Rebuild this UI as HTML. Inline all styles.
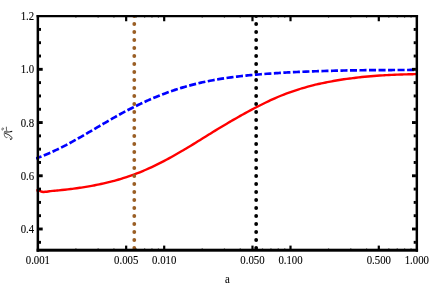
<!DOCTYPE html><html><head><meta charset="utf-8"><title>plot</title><style>html,body{margin:0;padding:0;background:#fff;width:429px;height:285px;overflow:hidden}</style></head><body><svg width="429" height="285" viewBox="0 0 429 285" style="display:block;position:absolute;left:0;top:0">
<rect width="429" height="285" fill="#fff"/>
<defs><clipPath id="c"><rect x="35.90" y="14.10" width="381.30" height="238.10"/></clipPath><clipPath id="d"><rect x="38" y="16.1" width="379" height="234.1"/></clipPath></defs>
<g clip-path="url(#d)"><circle cx="256.15" cy="248.00" r="1.90" fill="#000"/><circle cx="256.15" cy="240.00" r="1.90" fill="#000"/><circle cx="256.15" cy="232.00" r="1.90" fill="#000"/><circle cx="256.15" cy="224.00" r="1.90" fill="#000"/><circle cx="256.15" cy="216.00" r="1.90" fill="#000"/><circle cx="256.15" cy="208.00" r="1.90" fill="#000"/><circle cx="256.15" cy="200.00" r="1.90" fill="#000"/><circle cx="256.15" cy="192.00" r="1.90" fill="#000"/><circle cx="256.15" cy="184.00" r="1.90" fill="#000"/><circle cx="256.15" cy="176.00" r="1.90" fill="#000"/><circle cx="256.15" cy="168.00" r="1.90" fill="#000"/><circle cx="256.15" cy="160.00" r="1.90" fill="#000"/><circle cx="256.15" cy="152.00" r="1.90" fill="#000"/><circle cx="256.15" cy="144.00" r="1.90" fill="#000"/><circle cx="256.15" cy="136.00" r="1.90" fill="#000"/><circle cx="256.15" cy="128.00" r="1.90" fill="#000"/><circle cx="256.15" cy="120.00" r="1.90" fill="#000"/><circle cx="256.15" cy="112.00" r="1.90" fill="#000"/><circle cx="256.15" cy="104.00" r="1.90" fill="#000"/><circle cx="256.15" cy="96.00" r="1.90" fill="#000"/><circle cx="256.15" cy="88.00" r="1.90" fill="#000"/><circle cx="256.15" cy="80.00" r="1.90" fill="#000"/><circle cx="256.15" cy="72.00" r="1.90" fill="#000"/><circle cx="256.15" cy="64.00" r="1.90" fill="#000"/><circle cx="256.15" cy="56.00" r="1.90" fill="#000"/><circle cx="256.15" cy="48.00" r="1.90" fill="#000"/><circle cx="256.15" cy="40.00" r="1.90" fill="#000"/><circle cx="256.15" cy="32.00" r="1.90" fill="#000"/><circle cx="256.15" cy="24.00" r="1.90" fill="#000"/><circle cx="256.15" cy="16.00" r="1.90" fill="#000"/></g>
<g clip-path="url(#c)" fill="none" stroke-linecap="butt" stroke-linejoin="round">
<path d="M36.00 158.40 C36.50 158.23 38.00 157.71 39.00 157.35 C40.00 156.98 41.00 156.60 42.00 156.22 C43.00 155.83 44.00 155.43 45.00 155.02 C46.00 154.61 47.00 154.19 48.00 153.76 C49.00 153.33 50.00 152.89 51.00 152.44 C52.00 151.99 53.00 151.54 54.00 151.07 C55.00 150.60 56.00 150.13 57.00 149.64 C58.00 149.16 59.00 148.67 60.00 148.17 C61.00 147.67 62.00 147.16 63.00 146.65 C64.00 146.13 65.00 145.61 66.00 145.09 C67.00 144.56 68.00 144.03 69.00 143.49 C70.00 142.95 71.00 142.41 72.00 141.86 C73.00 141.31 74.00 140.76 75.00 140.20 C76.00 139.64 77.00 139.08 78.00 138.51 C79.00 137.95 80.00 137.38 81.00 136.80 C82.00 136.23 83.00 135.66 84.00 135.08 C85.00 134.50 86.00 133.92 87.00 133.34 C88.00 132.75 89.00 132.17 90.00 131.58 C91.00 131.00 92.00 130.41 93.00 129.82 C94.00 129.24 95.00 128.65 96.00 128.06 C97.00 127.47 98.00 126.89 99.00 126.30 C100.00 125.71 101.00 125.13 102.00 124.54 C103.00 123.96 104.00 123.37 105.00 122.79 C106.00 122.21 107.00 121.63 108.00 121.05 C109.00 120.47 110.00 119.90 111.00 119.33 C112.00 118.75 113.00 118.19 114.00 117.62 C115.00 117.06 116.00 116.49 117.00 115.94 C118.00 115.38 119.00 114.83 120.00 114.28 C121.00 113.73 122.00 113.19 123.00 112.66 C124.00 112.12 125.00 111.59 126.00 111.06 C127.00 110.54 128.00 110.01 129.00 109.50 C130.00 108.98 131.00 108.48 132.00 107.97 C133.00 107.47 134.00 106.97 135.00 106.48 C136.00 105.98 137.00 105.50 138.00 105.01 C139.00 104.53 140.00 104.06 141.00 103.59 C142.00 103.12 143.00 102.65 144.00 102.19 C145.00 101.73 146.00 101.28 147.00 100.83 C148.00 100.39 149.00 99.94 150.00 99.51 C151.00 99.07 152.00 98.64 153.00 98.22 C154.00 97.80 155.00 97.38 156.00 96.97 C157.00 96.56 158.00 96.15 159.00 95.75 C160.00 95.35 161.00 94.96 162.00 94.57 C163.00 94.18 164.00 93.80 165.00 93.43 C166.00 93.05 167.00 92.68 168.00 92.32 C169.00 91.96 170.00 91.60 171.00 91.25 C172.00 90.90 173.00 90.56 174.00 90.22 C175.00 89.89 176.00 89.55 177.00 89.23 C178.00 88.91 179.00 88.59 180.00 88.28 C181.00 87.96 182.00 87.66 183.00 87.36 C184.00 87.06 185.00 86.77 186.00 86.49 C187.00 86.20 188.00 85.92 189.00 85.65 C190.00 85.38 191.00 85.11 192.00 84.85 C193.00 84.59 194.00 84.33 195.00 84.08 C196.00 83.84 197.00 83.59 198.00 83.36 C199.00 83.12 200.00 82.89 201.00 82.66 C202.00 82.43 203.00 82.21 204.00 82.00 C205.00 81.78 206.00 81.57 207.00 81.37 C208.00 81.16 209.00 80.97 210.00 80.77 C211.00 80.58 212.00 80.39 213.00 80.20 C214.00 80.02 215.00 79.84 216.00 79.66 C217.00 79.48 218.00 79.31 219.00 79.15 C220.00 78.98 221.00 78.82 222.00 78.66 C223.00 78.50 224.00 78.35 225.00 78.20 C226.00 78.05 227.00 77.90 228.00 77.76 C229.00 77.62 230.00 77.48 231.00 77.35 C232.00 77.21 233.00 77.08 234.00 76.95 C235.00 76.83 236.00 76.70 237.00 76.58 C238.00 76.46 239.00 76.34 240.00 76.23 C241.00 76.12 242.00 76.01 243.00 75.90 C244.00 75.79 245.00 75.68 246.00 75.58 C247.00 75.48 248.00 75.38 249.00 75.28 C250.00 75.19 251.00 75.09 252.00 75.00 C253.00 74.91 254.00 74.82 255.00 74.73 C256.00 74.64 257.00 74.56 258.00 74.47 C259.00 74.39 260.00 74.31 261.00 74.23 C262.00 74.15 263.00 74.07 264.00 74.00 C265.00 73.92 266.00 73.85 267.00 73.78 C268.00 73.70 269.00 73.63 270.00 73.56 C271.00 73.49 272.00 73.42 273.00 73.36 C274.00 73.29 275.00 73.22 276.00 73.16 C277.00 73.10 278.00 73.03 279.00 72.97 C280.00 72.91 281.00 72.85 282.00 72.79 C283.00 72.73 284.00 72.67 285.00 72.62 C286.00 72.56 287.00 72.51 288.00 72.45 C289.00 72.40 290.00 72.34 291.00 72.29 C292.00 72.24 293.00 72.19 294.00 72.14 C295.00 72.09 296.00 72.04 297.00 72.00 C298.00 71.95 299.00 71.91 300.00 71.86 C301.00 71.82 302.00 71.77 303.00 71.73 C304.00 71.69 305.00 71.65 306.00 71.61 C307.00 71.57 308.00 71.53 309.00 71.49 C310.00 71.45 311.00 71.41 312.00 71.38 C313.00 71.34 314.00 71.31 315.00 71.27 C316.00 71.24 317.00 71.20 318.00 71.17 C319.00 71.14 320.00 71.11 321.00 71.08 C322.00 71.05 323.00 71.02 324.00 70.99 C325.00 70.96 326.00 70.93 327.00 70.90 C328.00 70.88 329.00 70.85 330.00 70.83 C331.00 70.80 332.00 70.78 333.00 70.75 C334.00 70.73 335.00 70.71 336.00 70.68 C337.00 70.66 338.00 70.64 339.00 70.62 C340.00 70.60 341.00 70.58 342.00 70.56 C343.00 70.54 344.00 70.52 345.00 70.50 C346.00 70.48 347.00 70.47 348.00 70.45 C349.00 70.43 350.00 70.42 351.00 70.40 C352.00 70.39 353.00 70.37 354.00 70.36 C355.00 70.34 356.00 70.33 357.00 70.32 C358.00 70.30 359.00 70.29 360.00 70.28 C361.00 70.27 362.00 70.25 363.00 70.24 C364.00 70.23 365.00 70.22 366.00 70.21 C367.00 70.20 368.00 70.19 369.00 70.18 C370.00 70.17 371.00 70.16 372.00 70.16 C373.00 70.15 374.00 70.14 375.00 70.13 C376.00 70.12 377.00 70.12 378.00 70.11 C379.00 70.10 380.00 70.10 381.00 70.09 C382.00 70.08 383.00 70.08 384.00 70.07 C385.00 70.07 386.00 70.06 387.00 70.06 C388.00 70.05 389.00 70.05 390.00 70.04 C391.00 70.04 392.00 70.03 393.00 70.03 C394.00 70.02 395.00 70.02 396.00 70.01 C397.00 70.01 398.00 70.01 399.00 70.00 C400.00 70.00 401.00 70.00 402.00 69.99 C403.00 69.99 404.00 69.99 405.00 69.98 C406.00 69.98 407.00 69.98 408.00 69.97 C409.00 69.97 410.00 69.97 411.00 69.96 C412.00 69.96 413.00 69.96 414.00 69.95 C415.00 69.95 416.50 69.95 417.00 69.94" stroke="#0000ff" stroke-width="2.68" stroke-dasharray="7.05 2.47" stroke-dashoffset="1.22"/>
<path d="M36.30 190.20 C36.58 190.22 37.52 190.27 38.00 190.35 C38.48 190.43 38.70 190.51 39.20 190.70 C39.70 190.89 40.34 191.29 41.00 191.50 C41.66 191.71 42.32 191.91 43.15 191.95 C43.98 191.99 44.94 191.86 46.00 191.75 C47.06 191.64 48.37 191.44 49.50 191.30 C50.63 191.16 51.75 191.01 52.80 190.90 C53.85 190.79 54.80 190.72 55.80 190.63 C56.80 190.53 57.80 190.44 58.80 190.34 C59.80 190.24 60.80 190.14 61.80 190.03 C62.80 189.93 63.80 189.82 64.80 189.71 C65.80 189.60 66.80 189.49 67.80 189.37 C68.80 189.25 69.80 189.13 70.80 189.01 C71.80 188.88 72.80 188.76 73.80 188.63 C74.80 188.50 75.80 188.36 76.80 188.22 C77.80 188.08 78.80 187.94 79.80 187.79 C80.80 187.65 81.80 187.50 82.80 187.34 C83.80 187.19 84.80 187.03 85.80 186.86 C86.80 186.70 87.80 186.53 88.80 186.35 C89.80 186.18 90.80 186.00 91.80 185.82 C92.80 185.63 93.80 185.45 94.80 185.25 C95.80 185.06 96.80 184.86 97.80 184.66 C98.80 184.45 99.80 184.24 100.80 184.03 C101.80 183.81 102.80 183.59 103.80 183.36 C104.80 183.13 105.80 182.90 106.80 182.66 C107.80 182.42 108.80 182.18 109.80 181.93 C110.80 181.67 111.80 181.42 112.80 181.15 C113.80 180.89 114.80 180.62 115.80 180.34 C116.80 180.06 117.80 179.78 118.80 179.49 C119.80 179.20 120.80 178.90 121.80 178.59 C122.80 178.29 123.80 177.97 124.80 177.65 C125.80 177.33 126.80 177.01 127.80 176.67 C128.80 176.34 129.80 176.00 130.80 175.65 C131.80 175.30 132.80 174.94 133.80 174.57 C134.80 174.21 135.80 173.83 136.80 173.45 C137.80 173.07 138.80 172.68 139.80 172.28 C140.80 171.88 141.80 171.47 142.80 171.06 C143.80 170.64 144.80 170.22 145.80 169.78 C146.80 169.35 147.80 168.91 148.80 168.46 C149.80 168.01 150.80 167.55 151.80 167.08 C152.80 166.61 153.80 166.14 154.80 165.66 C155.80 165.18 156.80 164.69 157.80 164.19 C158.80 163.69 159.80 163.19 160.80 162.68 C161.80 162.17 162.80 161.65 163.80 161.12 C164.80 160.60 165.80 160.07 166.80 159.53 C167.80 159.00 168.80 158.45 169.80 157.90 C170.80 157.36 171.80 156.80 172.80 156.24 C173.80 155.68 174.80 155.12 175.80 154.55 C176.80 153.98 177.80 153.41 178.80 152.83 C179.80 152.25 180.80 151.67 181.80 151.08 C182.80 150.49 183.80 149.90 184.80 149.31 C185.80 148.71 186.80 148.12 187.80 147.51 C188.80 146.91 189.80 146.31 190.80 145.70 C191.80 145.09 192.80 144.48 193.80 143.87 C194.80 143.25 195.80 142.64 196.80 142.02 C197.80 141.40 198.80 140.79 199.80 140.17 C200.80 139.55 201.80 138.92 202.80 138.30 C203.80 137.68 204.80 137.06 205.80 136.44 C206.80 135.82 207.80 135.20 208.80 134.58 C209.80 133.96 210.80 133.34 211.80 132.72 C212.80 132.11 213.80 131.49 214.80 130.88 C215.80 130.26 216.80 129.65 217.80 129.05 C218.80 128.44 219.80 127.83 220.80 127.23 C221.80 126.63 222.80 126.03 223.80 125.43 C224.80 124.84 225.80 124.25 226.80 123.66 C227.80 123.07 228.80 122.48 229.80 121.89 C230.80 121.31 231.80 120.73 232.80 120.15 C233.80 119.57 234.80 119.00 235.80 118.43 C236.80 117.86 237.80 117.29 238.80 116.72 C239.80 116.16 240.80 115.60 241.80 115.04 C242.80 114.48 243.80 113.93 244.80 113.37 C245.80 112.82 246.80 112.28 247.80 111.74 C248.80 111.19 249.80 110.65 250.80 110.12 C251.80 109.59 252.80 109.06 253.80 108.53 C254.80 108.01 255.80 107.49 256.80 106.97 C257.80 106.46 258.80 105.95 259.80 105.44 C260.80 104.94 261.80 104.44 262.80 103.95 C263.80 103.45 264.80 102.97 265.80 102.48 C266.80 102.00 267.80 101.53 268.80 101.06 C269.80 100.59 270.80 100.12 271.80 99.67 C272.80 99.21 273.80 98.76 274.80 98.32 C275.80 97.88 276.80 97.45 277.80 97.02 C278.80 96.60 279.80 96.18 280.80 95.77 C281.80 95.37 282.80 94.97 283.80 94.58 C284.80 94.19 285.80 93.80 286.80 93.43 C287.80 93.06 288.80 92.69 289.80 92.33 C290.80 91.97 291.80 91.62 292.80 91.28 C293.80 90.94 294.80 90.61 295.80 90.28 C296.80 89.95 297.80 89.63 298.80 89.32 C299.80 89.01 300.80 88.70 301.80 88.41 C302.80 88.11 303.80 87.82 304.80 87.53 C305.80 87.25 306.80 86.97 307.80 86.70 C308.80 86.43 309.80 86.17 310.80 85.91 C311.80 85.65 312.80 85.40 313.80 85.15 C314.80 84.90 315.80 84.66 316.80 84.43 C317.80 84.19 318.80 83.96 319.80 83.74 C320.80 83.52 321.80 83.30 322.80 83.08 C323.80 82.87 324.80 82.66 325.80 82.46 C326.80 82.26 327.80 82.06 328.80 81.86 C329.80 81.67 330.80 81.48 331.80 81.30 C332.80 81.11 333.80 80.93 334.80 80.76 C335.80 80.58 336.80 80.41 337.80 80.25 C338.80 80.08 339.80 79.92 340.80 79.76 C341.80 79.60 342.80 79.45 343.80 79.30 C344.80 79.15 345.80 79.01 346.80 78.87 C347.80 78.73 348.80 78.59 349.80 78.46 C350.80 78.32 351.80 78.19 352.80 78.07 C353.80 77.94 354.80 77.82 355.80 77.71 C356.80 77.59 357.80 77.47 358.80 77.36 C359.80 77.25 360.80 77.15 361.80 77.04 C362.80 76.94 363.80 76.84 364.80 76.75 C365.80 76.65 366.80 76.56 367.80 76.47 C368.80 76.38 369.80 76.29 370.80 76.21 C371.80 76.12 372.80 76.04 373.80 75.97 C374.80 75.89 375.80 75.81 376.80 75.74 C377.80 75.67 378.80 75.60 379.80 75.54 C380.80 75.47 381.80 75.41 382.80 75.35 C383.80 75.28 384.80 75.23 385.80 75.17 C386.80 75.12 387.80 75.06 388.80 75.01 C389.80 74.96 390.80 74.91 391.80 74.87 C392.80 74.82 393.80 74.78 394.80 74.74 C395.80 74.69 396.80 74.66 397.80 74.62 C398.80 74.58 399.80 74.54 400.80 74.51 C401.80 74.48 402.80 74.45 403.80 74.42 C404.80 74.39 405.80 74.36 406.80 74.33 C407.80 74.31 408.80 74.28 409.80 74.26 C410.80 74.23 411.80 74.21 412.80 74.19 C413.80 74.17 415.10 74.15 415.80 74.14 C416.50 74.12 416.80 74.12 417.00 74.12" stroke="#ff0000" stroke-width="2.38"/>
</g>
<g clip-path="url(#d)"><circle cx="134.27" cy="248.00" r="1.90" fill="#9a5e24"/><circle cx="134.27" cy="240.00" r="1.90" fill="#9a5e24"/><circle cx="134.27" cy="232.00" r="1.90" fill="#9a5e24"/><circle cx="134.27" cy="224.00" r="1.90" fill="#9a5e24"/><circle cx="134.27" cy="216.00" r="1.90" fill="#9a5e24"/><circle cx="134.27" cy="208.00" r="1.90" fill="#9a5e24"/><circle cx="134.27" cy="200.00" r="1.90" fill="#9a5e24"/><circle cx="134.27" cy="192.00" r="1.90" fill="#9a5e24"/><circle cx="134.27" cy="184.00" r="1.90" fill="#9a5e24"/><circle cx="134.27" cy="176.00" r="1.90" fill="#9a5e24"/><circle cx="134.27" cy="168.00" r="1.90" fill="#9a5e24"/><circle cx="134.27" cy="160.00" r="1.90" fill="#9a5e24"/><circle cx="134.27" cy="152.00" r="1.90" fill="#9a5e24"/><circle cx="134.27" cy="144.00" r="1.90" fill="#9a5e24"/><circle cx="134.27" cy="136.00" r="1.90" fill="#9a5e24"/><circle cx="134.27" cy="128.00" r="1.90" fill="#9a5e24"/><circle cx="134.27" cy="120.00" r="1.90" fill="#9a5e24"/><circle cx="134.27" cy="112.00" r="1.90" fill="#9a5e24"/><circle cx="134.27" cy="104.00" r="1.90" fill="#9a5e24"/><circle cx="134.27" cy="96.00" r="1.90" fill="#9a5e24"/><circle cx="134.27" cy="88.00" r="1.90" fill="#9a5e24"/><circle cx="134.27" cy="80.00" r="1.90" fill="#9a5e24"/><circle cx="134.27" cy="72.00" r="1.90" fill="#9a5e24"/><circle cx="134.27" cy="64.00" r="1.90" fill="#9a5e24"/><circle cx="134.27" cy="56.00" r="1.90" fill="#9a5e24"/><circle cx="134.27" cy="48.00" r="1.90" fill="#9a5e24"/><circle cx="134.27" cy="40.00" r="1.90" fill="#9a5e24"/><circle cx="134.27" cy="32.00" r="1.90" fill="#9a5e24"/><circle cx="134.27" cy="24.00" r="1.90" fill="#9a5e24"/><circle cx="134.27" cy="16.00" r="1.90" fill="#9a5e24"/></g>
<g fill="#000">
<rect x="36.60" y="15.00" width="381.46" height="2.25"/>
<rect x="36.60" y="248.70" width="381.46" height="3.00"/>
<rect x="36.60" y="15.00" width="2.50" height="236.70"/>
<rect x="415.60" y="15.00" width="2.46" height="236.70"/>
</g>
<g stroke="#000" stroke-width="2.90"><line x1="38.80" y1="242.31" x2="41.00" y2="242.31"/><line x1="415.90" y1="242.31" x2="413.70" y2="242.31"/><line x1="38.80" y1="229.00" x2="42.70" y2="229.00"/><line x1="415.90" y1="229.00" x2="412.00" y2="229.00"/><line x1="38.80" y1="215.69" x2="41.00" y2="215.69"/><line x1="415.90" y1="215.69" x2="413.70" y2="215.69"/><line x1="38.80" y1="202.39" x2="41.00" y2="202.39"/><line x1="415.90" y1="202.39" x2="413.70" y2="202.39"/><line x1="38.80" y1="189.08" x2="41.00" y2="189.08"/><line x1="415.90" y1="189.08" x2="413.70" y2="189.08"/><line x1="38.80" y1="175.77" x2="42.70" y2="175.77"/><line x1="415.90" y1="175.77" x2="412.00" y2="175.77"/><line x1="38.80" y1="162.47" x2="41.00" y2="162.47"/><line x1="415.90" y1="162.47" x2="413.70" y2="162.47"/><line x1="38.80" y1="149.16" x2="41.00" y2="149.16"/><line x1="415.90" y1="149.16" x2="413.70" y2="149.16"/><line x1="38.80" y1="135.86" x2="41.00" y2="135.86"/><line x1="415.90" y1="135.86" x2="413.70" y2="135.86"/><line x1="38.80" y1="122.55" x2="42.70" y2="122.55"/><line x1="415.90" y1="122.55" x2="412.00" y2="122.55"/><line x1="38.80" y1="109.24" x2="41.00" y2="109.24"/><line x1="415.90" y1="109.24" x2="413.70" y2="109.24"/><line x1="38.80" y1="95.94" x2="41.00" y2="95.94"/><line x1="415.90" y1="95.94" x2="413.70" y2="95.94"/><line x1="38.80" y1="82.63" x2="41.00" y2="82.63"/><line x1="415.90" y1="82.63" x2="413.70" y2="82.63"/><line x1="38.80" y1="69.32" x2="42.70" y2="69.32"/><line x1="415.90" y1="69.32" x2="412.00" y2="69.32"/><line x1="38.80" y1="56.02" x2="41.00" y2="56.02"/><line x1="415.90" y1="56.02" x2="413.70" y2="56.02"/><line x1="38.80" y1="42.71" x2="41.00" y2="42.71"/><line x1="415.90" y1="42.71" x2="413.70" y2="42.71"/><line x1="38.80" y1="29.41" x2="41.00" y2="29.41"/><line x1="415.90" y1="29.41" x2="413.70" y2="29.41"/></g>
<g stroke="#000" stroke-width="2.20"><line x1="126.16" y1="249.00" x2="126.16" y2="245.60"/><line x1="126.16" y1="16.95" x2="126.16" y2="21.25"/><line x1="164.19" y1="249.00" x2="164.19" y2="245.60"/><line x1="164.19" y1="16.95" x2="164.19" y2="21.25"/><line x1="252.48" y1="249.00" x2="252.48" y2="245.60"/><line x1="252.48" y1="16.95" x2="252.48" y2="21.25"/><line x1="290.51" y1="249.00" x2="290.51" y2="245.60"/><line x1="290.51" y1="16.95" x2="290.51" y2="21.25"/><line x1="378.80" y1="249.00" x2="378.80" y2="245.60"/><line x1="378.80" y1="16.95" x2="378.80" y2="21.25"/></g>
<g stroke="#000" stroke-width="1.2" opacity="0.6"><line x1="75.90" y1="249.00" x2="75.90" y2="248.35"/><line x1="75.90" y1="16.95" x2="75.90" y2="17.75"/><line x1="98.14" y1="249.00" x2="98.14" y2="248.35"/><line x1="98.14" y1="16.95" x2="98.14" y2="17.75"/><line x1="113.92" y1="249.00" x2="113.92" y2="248.35"/><line x1="113.92" y1="16.95" x2="113.92" y2="17.75"/><line x1="136.17" y1="249.00" x2="136.17" y2="248.35"/><line x1="136.17" y1="16.95" x2="136.17" y2="17.75"/><line x1="144.62" y1="249.00" x2="144.62" y2="248.35"/><line x1="144.62" y1="16.95" x2="144.62" y2="17.75"/><line x1="151.95" y1="249.00" x2="151.95" y2="248.35"/><line x1="151.95" y1="16.95" x2="151.95" y2="17.75"/><line x1="158.41" y1="249.00" x2="158.41" y2="248.35"/><line x1="158.41" y1="16.95" x2="158.41" y2="17.75"/><line x1="202.22" y1="249.00" x2="202.22" y2="248.35"/><line x1="202.22" y1="16.95" x2="202.22" y2="17.75"/><line x1="224.46" y1="249.00" x2="224.46" y2="248.35"/><line x1="224.46" y1="16.95" x2="224.46" y2="17.75"/><line x1="240.24" y1="249.00" x2="240.24" y2="248.35"/><line x1="240.24" y1="16.95" x2="240.24" y2="17.75"/><line x1="262.49" y1="249.00" x2="262.49" y2="248.35"/><line x1="262.49" y1="16.95" x2="262.49" y2="17.75"/><line x1="270.94" y1="249.00" x2="270.94" y2="248.35"/><line x1="270.94" y1="16.95" x2="270.94" y2="17.75"/><line x1="278.27" y1="249.00" x2="278.27" y2="248.35"/><line x1="278.27" y1="16.95" x2="278.27" y2="17.75"/><line x1="284.73" y1="249.00" x2="284.73" y2="248.35"/><line x1="284.73" y1="16.95" x2="284.73" y2="17.75"/><line x1="328.54" y1="249.00" x2="328.54" y2="248.35"/><line x1="328.54" y1="16.95" x2="328.54" y2="17.75"/><line x1="350.78" y1="249.00" x2="350.78" y2="248.35"/><line x1="350.78" y1="16.95" x2="350.78" y2="17.75"/><line x1="366.56" y1="249.00" x2="366.56" y2="248.35"/><line x1="366.56" y1="16.95" x2="366.56" y2="17.75"/><line x1="388.81" y1="249.00" x2="388.81" y2="248.35"/><line x1="388.81" y1="16.95" x2="388.81" y2="17.75"/><line x1="397.26" y1="249.00" x2="397.26" y2="248.35"/><line x1="397.26" y1="16.95" x2="397.26" y2="17.75"/><line x1="404.59" y1="249.00" x2="404.59" y2="248.35"/><line x1="404.59" y1="16.95" x2="404.59" y2="17.75"/><line x1="411.05" y1="249.00" x2="411.05" y2="248.35"/><line x1="411.05" y1="16.95" x2="411.05" y2="17.75"/></g>
<g style="will-change:transform" font-family="'Liberation Serif', serif" font-size="11.6" fill="#000" stroke="#000" stroke-width="0.1">
<text transform="translate(34.10 20.15) scale(0.93 1)" text-anchor="end">1.2</text>
<text transform="translate(34.10 73.37) scale(0.93 1)" text-anchor="end">1.0</text>
<text transform="translate(34.10 126.60) scale(0.93 1)" text-anchor="end">0.8</text>
<text transform="translate(34.10 179.82) scale(0.93 1)" text-anchor="end">0.6</text>
<text transform="translate(34.10 233.05) scale(0.93 1)" text-anchor="end">0.4</text>
<text transform="translate(37.87 263.90) scale(0.93 1)" text-anchor="middle">0.001</text>
<text transform="translate(126.16 263.90) scale(0.93 1)" text-anchor="middle">0.005</text>
<text transform="translate(164.19 263.90) scale(0.93 1)" text-anchor="middle">0.010</text>
<text transform="translate(252.48 263.90) scale(0.93 1)" text-anchor="middle">0.050</text>
<text transform="translate(290.51 263.90) scale(0.93 1)" text-anchor="middle">0.100</text>
<text transform="translate(378.80 263.90) scale(0.93 1)" text-anchor="middle">0.500</text>
<text transform="translate(416.83 263.90) scale(0.93 1)" text-anchor="middle">1.000</text>
<text transform="translate(227.50 282.90) scale(0.93 1)" text-anchor="middle">a</text>
</g>
<g id="ylab" fill="none" stroke="#2a2a2a" stroke-linecap="round"><path d="M4.48 131.51 C6.96 131.81 10.05 131.43 12.21 130.73 L12.21 132.12 C10.05 132.74 6.96 132.74 4.48 132.20 Z" fill="#1a1a1a" stroke="none"/><path d="M6.34 127.10 C6.18 128.57 6.49 129.73 6.80 130.96" stroke-width="0.75"/><path d="M4.95 131.12 C3.71 132.66 4.02 135.76 5.41 137.15 C6.18 137.84 7.11 137.84 7.57 137.15" stroke-width="0.7"/><path d="M5.26 133.28 C7.73 134.21 10.66 135.60 11.75 137.30 C12.21 138.54 11.75 139.77 10.66 139.62" stroke-width="1.0"/><path d="M9.89 137.92 C10.51 138.38 10.82 139.00 10.66 139.62" stroke-width="0.7"/><path d="M2.09 130.04 C1.39 128.65 2.47 127.26 3.40 128.18 C3.86 128.96 3.40 129.57 2.94 129.73" stroke-width="0.7"/></g>
</svg></body></html>
